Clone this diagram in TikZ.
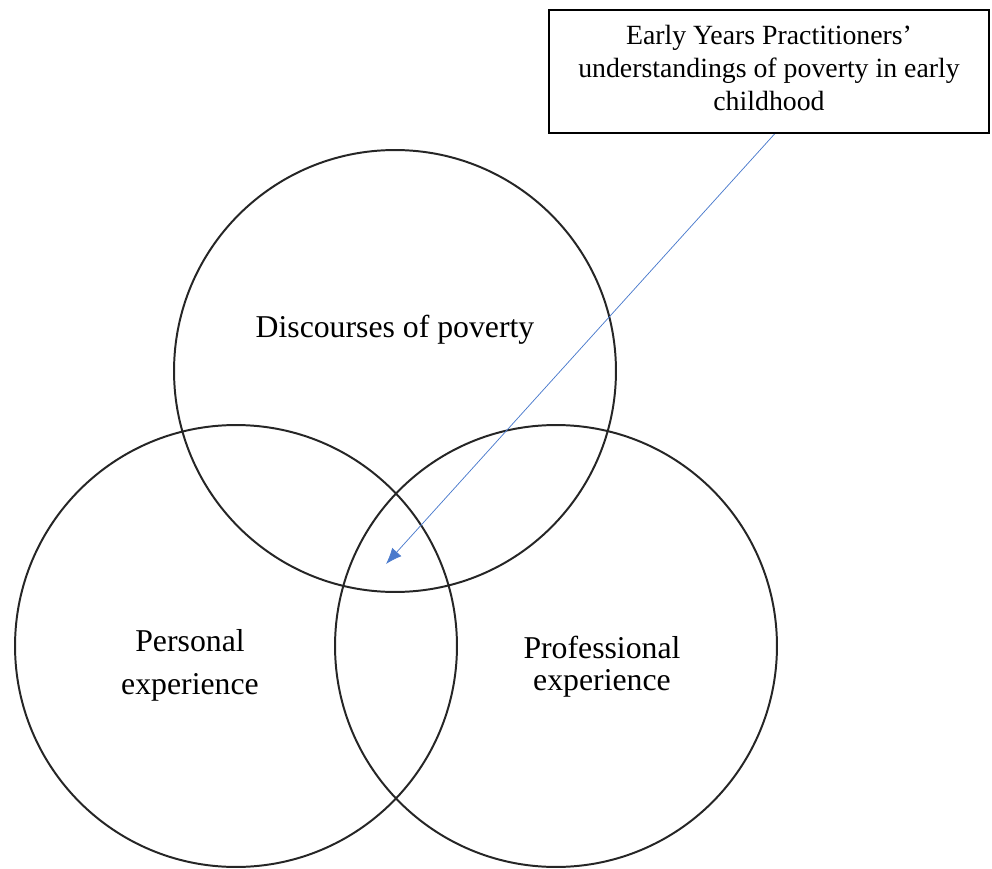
\documentclass[tikz,border=0pt]{standalone}
\usepackage{fontspec}
\setmainfont{Liberation Serif}
\usetikzlibrary{arrows.meta}
\definecolor{arrowblue}{RGB}{74,122,204}
\tikzset{
	setcircle/.style={circle, draw=black!85, line width=1.6pt, minimum size=12.57cm, inner sep=0pt},
	setlabel/.style={align=center, font=\fontsize{25.7}{34.8}\selectfont},
	titlebox/.style={draw=black, line width=1.6pt, minimum width=12.5cm, minimum height=3.5cm, align=center, font=\fontsize{22.5}{27}\selectfont, inner sep=0pt}
}
\begin{document}
\begin{tikzpicture}[x=0.02845cm, y=-0.02845cm]
		\useasboundingbox (0,0) rectangle (992,869);

		% Three circles
		\node[setcircle] (discourse) at (395,371) {};
		\node[setcircle] (personal) at (236,646) {};
		\node[setcircle] (professional) at (556,646) {};

		% Circle labels
		\node[setlabel] (discoursetext) at (395,330) {Discourses of poverty};
		\node[setlabel] (personaltext) at (190,665) {Personal\\experience};
		\node[setlabel, font=\fontsize{25.7}{26}\selectfont] (professionaltext) at (602,667) {Professional\\experience};

		% Title box and pointer to the centre
		\node[titlebox] (understanding) at (769,71.5) {};
		\node[align=center, font=\fontsize{22.5}{27}\selectfont] (understandingtext) at (769,68) {Early Years Practitioners'\\understandings of poverty in early\\childhood};
		\coordinate (centre) at (386,564);
		\draw[arrowblue, line width=0.6pt, -{Latex[length=13pt, width=10pt]}] ([xshift=5.5*0.02845cm]understanding.south) -- (centre);
	\end{tikzpicture}
\end{document}
